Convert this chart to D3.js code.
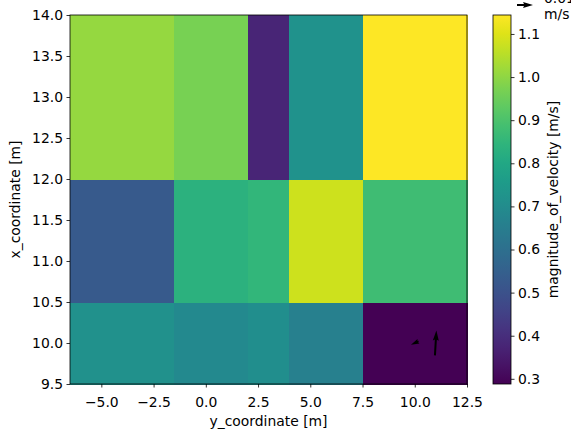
<!DOCTYPE html>
<html>
<head>
<meta charset="utf-8">
<script src="https://cdn.jsdelivr.net/npm/d3@7"></script>
<style>
  body { margin: 0; background: #fff; }
  svg text { font-family: "DejaVu Sans", sans-serif; font-size: 13.9px; fill: #000; }
</style>
</head>
<body>
<svg id="chart" width="571" height="438"></svg>
<script>
// cell edges along each axis
const yCoordEdges = [-6.5, -1.5, 2, 4, 7.5, 12.5];   // horizontal axis
const xCoordEdges = [9.5, 10.5, 12, 14];             // vertical axis
// magnitude_of_velocity, one row per x_coordinate band (bottom -> top)
const rowBottom = [0.716, 0.690, 0.707, 0.656, 0.288];
const rowMiddle = [0.528, 0.836, 0.853, 1.080, 0.879];
const rowTop    = [1.007, 0.970, 0.378, 0.720, 1.144];
const magnitudeRows = [rowBottom, rowMiddle, rowTop];
const colorMin = 0.288, colorMax = 1.144;

const xTicks = [-5, -2.5, 0, 2.5, 5, 7.5, 10, 12.5];
const yTicks = [9.5, 10, 10.5, 11, 11.5, 12, 12.5, 13, 13.5, 14];
const cbarTicks = [0.3, 0.4, 0.5, 0.6, 0.7, 0.8, 0.9, 1.0, 1.1];

// velocity arrows (pivot at middle): position, u (horizontal), v (vertical) in m/s
const arrowPos = [[10, 10], [11, 10]];
const arrowU = [-0.0047, 0.0009];
const arrowV = [-0.0021, 0.0155];
const keyValue = 0.01;

const svg = d3.select("#chart");
const plot = {left: 70, right: 467, top: 15, bottom: 384};

const x = d3.scaleLinear().domain([-6.5, 12.5]).range([plot.left, plot.right]);
const y = d3.scaleLinear().domain([9.5, 14]).range([plot.bottom, plot.top]);
const color = v => d3.interpolateViridis((v - colorMin) / (colorMax - colorMin));

// mesh cells
const cells = [];
magnitudeRows.forEach((row, r) => row.forEach((v, c) => cells.push({r, c, v})));
svg.append("g").selectAll("rect").data(cells).join("rect")
  .attr("x", d => x(yCoordEdges[d.c]))
  .attr("y", d => y(xCoordEdges[d.r + 1]))
  .attr("width", d => x(yCoordEdges[d.c + 1]) - x(yCoordEdges[d.c]) + 0.5)
  .attr("height", d => y(xCoordEdges[d.r]) - y(xCoordEdges[d.r + 1]) + 0.5)
  .attr("fill", d => color(d.v))
  .attr("shape-rendering", "crispEdges");

// quiver arrows like matplotlib: shaft width w, head width 3w, head length 5w, head axis 4.5w
const pxPerUnit = 1600;
const w = 2;
function arrowPath(len) {
  let s = 1, L = len;
  if (len < 5 * w) { s = len / (5 * w); L = 5 * w; }
  const pts = [[0, -w/2], [L - 4.5*w, -w/2], [L - 5*w, -1.5*w], [L, 0],
               [L - 5*w, 1.5*w], [L - 4.5*w, w/2], [0, w/2]];
  return pts.map(p => [p[0] * s, p[1] * s]);
}
function drawArrow(g, cx, cy, dx, dy, pivotMid) {
  const len = Math.hypot(dx, dy);
  const ang = Math.atan2(dy, dx) * 180 / Math.PI;
  const pts = arrowPath(len);
  const shift = pivotMid ? -len / 2 : 0;
  g.append("polygon")
    .attr("points", pts.map(p => [p[0] + shift, p[1]].join(",")).join(" "))
    .attr("transform", `translate(${cx},${cy}) rotate(${ang})`)
    .attr("fill", "#000");
}
const arrows = svg.append("g");
arrowPos.forEach((p, i) => {
  drawArrow(arrows, x(p[0]), y(p[1]), arrowU[i] * pxPerUnit, -arrowV[i] * pxPerUnit, true);
});

// frame
svg.append("rect")
  .attr("x", plot.left).attr("y", plot.top)
  .attr("width", plot.right - plot.left).attr("height", plot.bottom - plot.top)
  .attr("fill", "none").attr("stroke", "#000").attr("stroke-width", 0.8);

// axes
const fmt = d3.format(".1f");
const xAxis = svg.append("g").attr("transform", `translate(0,${plot.bottom})`)
  .call(d3.axisBottom(x).tickValues(xTicks).tickFormat(d => fmt(d).replace("-", "\u2212")).tickSize(3.5).tickPadding(3.5));
const yAxis = svg.append("g").attr("transform", `translate(${plot.left},0)`)
  .call(d3.axisLeft(y).tickValues(yTicks).tickFormat(fmt).tickSize(3.5).tickPadding(3.5));
[xAxis, yAxis].forEach(a => {
  a.select(".domain").remove();
  a.selectAll("line").attr("stroke", "#000").attr("stroke-width", 0.8);
  a.selectAll("text").attr("font-family", "DejaVu Sans").attr("font-size", 13.9).attr("fill", "#000");
});
xAxis.selectAll("text").attr("y", 12).attr("dy", "0.76em");

svg.append("text").attr("x", (plot.left + plot.right) / 2).attr("y", 426)
  .attr("text-anchor", "middle").text("y_coordinate [m]");
svg.append("text").attr("transform", `translate(20,${(plot.top + plot.bottom) / 2}) rotate(-90)`)
  .attr("text-anchor", "middle").text("x_coordinate [m]");

// colorbar
const cb = {left: 493, right: 511};
const cy = d3.scaleLinear().domain([colorMin, colorMax]).range([plot.bottom, plot.top]);
const grad = svg.append("defs").append("linearGradient")
  .attr("id", "vir").attr("x1", 0).attr("y1", 1).attr("x2", 0).attr("y2", 0);
d3.range(0, 1.001, 0.05).forEach(t => {
  grad.append("stop").attr("offset", t).attr("stop-color", d3.interpolateViridis(t));
});
svg.append("rect").attr("x", cb.left).attr("y", plot.top)
  .attr("width", cb.right - cb.left).attr("height", plot.bottom - plot.top)
  .attr("fill", "url(#vir)").attr("stroke", "#000").attr("stroke-width", 0.8);
const cAxis = svg.append("g").attr("transform", `translate(${cb.right},0)`)
  .call(d3.axisRight(cy).tickValues(cbarTicks).tickFormat(fmt).tickSize(3.5).tickPadding(3.5));
cAxis.select(".domain").remove();
cAxis.selectAll("line").attr("stroke", "#000").attr("stroke-width", 0.8);
cAxis.selectAll("text").attr("font-family", "DejaVu Sans").attr("font-size", 13.9).attr("fill", "#000");
svg.append("text").attr("transform", `translate(558,${(plot.top + plot.bottom) / 2}) rotate(-90)`)
  .attr("text-anchor", "middle").text("magnitude_of_velocity [m/s]");

// quiver key (its top line runs off the page, as in the original)
const key = svg.append("g");
drawArrow(key, 525, 5, keyValue * pxPerUnit, 0, true);
key.append("text").attr("x", 544).attr("y", 3).text("0.01");
key.append("text").attr("x", 544).attr("y", 19).text("m/s");
</script>
</body>
</html>
